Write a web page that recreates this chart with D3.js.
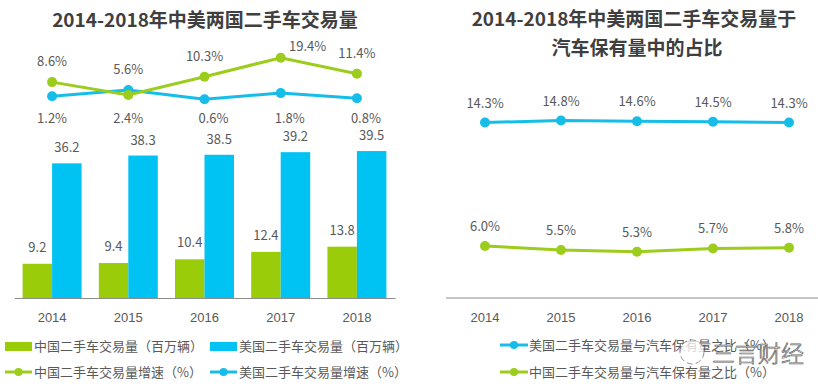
<!DOCTYPE html>
<html><head><meta charset="utf-8">
<script src="https://cdn.jsdelivr.net/npm/d3@7"></script>
<style>
html,body{margin:0;padding:0;background:#fff;}
svg{display:block;font-family:"Noto Sans CJK SC","Noto Sans",sans-serif;}
</style></head>
<body>
<svg id="c" width="818" height="389"></svg>
<script>
// ---------- data ----------
const years = ["2014","2015","2016","2017","2018"];
const cnVolume = [9.2, 9.4, 10.4, 12.4, 13.8];      // 百万辆
const usVolume = [36.2, 38.3, 38.5, 39.2, 39.5];    // 百万辆
const cnGrowth = [8.6, 5.6, 10.3, 19.4, 11.4];      // %
const usGrowth = [1.2, 2.4, 0.6, 1.8, 0.8];         // %
const usShare = [14.3, 14.8, 14.6, 14.5, 14.3];     // %
const cnShare = [6.0, 5.5, 5.3, 5.7, 5.8];          // %
const titleLeft = "2014-2018年中美两国二手车交易量";
const titleRight = ["2014-2018年中美两国二手车交易量于", "汽车保有量中的占比"];
const legendLeft = ["中国二手车交易量（百万辆）","美国二手车交易量（百万辆）","中国二手车交易量增速（%）","美国二手车交易量增速（%）"];
const legendRight = ["美国二手车交易量与汽车保有量之比（%）","中国二手车交易量与汽车保有量之比（%）"];

// ---------- style ----------
const GREEN = "#9acc0a", BLUE = "#00c3f3", LGREEN = "#9ccc1c", LBLUE = "#17bde9";
const TXT = "#595959", TITLE = "#3f3f3f", AXIS = "#8c8c8c";

const svg = d3.select("#c");

// ---------- left chart ----------
const L = svg.append("g");
L.append("text").attr("x",205).attr("y",27).attr("text-anchor","middle")
  .attr("font-size",19).attr("font-weight","bold").attr("fill",TITLE).text(titleLeft);

const x0 = d3.scaleBand().domain(years).range([14,395]).paddingInner(0.226).paddingOuter(0.113);
const x1 = d3.scaleBand().domain(["cn","us"]).range([0,x0.bandwidth()]);
const yBar = d3.scaleLinear().domain([0,40]).range([298,149.2]);
const yCnG = d3.scaleLog().domain([5.6,19.4]).range([95,57.7]);
const yUsG = d3.scaleLinear().domain([0.6,2.4]).range([99.3,90.0]);

const groups = L.selectAll("g.yr").data(years).join("g").attr("class","yr")
  .attr("transform", d=>`translate(${x0(d)},0)`);
groups.append("rect").attr("x",x1("cn")).attr("width",x1.bandwidth())
  .attr("y",(d,i)=>yBar(cnVolume[i])).attr("height",(d,i)=>yBar(0)-yBar(cnVolume[i])).attr("fill",GREEN);
groups.append("rect").attr("x",x1("us")).attr("width",x1.bandwidth())
  .attr("y",(d,i)=>yBar(usVolume[i])).attr("height",(d,i)=>yBar(0)-yBar(usVolume[i])).attr("fill",BLUE);
groups.append("text").attr("x",x1("cn")+x1.bandwidth()/2).attr("y",(d,i)=>yBar(cnVolume[i])-12)
  .attr("text-anchor","middle").attr("font-size",13).attr("fill",TXT).text((d,i)=>cnVolume[i].toFixed(1));
groups.append("text").attr("x",x1("us")+x1.bandwidth()/2).attr("y",(d,i)=>yBar(usVolume[i])-11)
  .attr("text-anchor","middle").attr("font-size",13).attr("fill",TXT).text((d,i)=>usVolume[i].toFixed(1));

const axL = L.append("g").attr("transform","translate(0,298)")
  .call(d3.axisBottom(x0).tickSize(0).tickSizeOuter(0).tickPadding(15));
axL.select(".domain").attr("stroke",AXIS);
axL.selectAll("text").attr("font-size",13).attr("fill",TXT).attr("font-family","inherit");

const cx = d => x0(d)+x0.bandwidth()/2;
const lineCn = d3.line().x((d,i)=>cx(years[i])).y(d=>yCnG(d));
const lineUs = d3.line().x((d,i)=>cx(years[i])).y(d=>yUsG(d));
L.append("path").datum(usGrowth).attr("d",lineUs).attr("fill","none").attr("stroke",LBLUE).attr("stroke-width",3);
L.append("path").datum(cnGrowth).attr("d",lineCn).attr("fill","none").attr("stroke",LGREEN).attr("stroke-width",3);
L.selectAll("circle.us").data(usGrowth).join("circle").attr("class","us")
  .attr("cx",(d,i)=>cx(years[i])).attr("cy",d=>yUsG(d)).attr("r",5).attr("fill",LBLUE);
L.selectAll("circle.cn").data(cnGrowth).join("circle").attr("class","cn")
  .attr("cx",(d,i)=>cx(years[i])).attr("cy",d=>yCnG(d)).attr("r",5).attr("fill",LGREEN);

// label layout nudges (placement only)
const cnMaxIdx = cnGrowth.indexOf(d3.max(cnGrowth));
L.selectAll("text.cnl").data(cnGrowth).join("text").attr("class","cnl")
  .attr("x",(d,i)=>cx(years[i]) + (i===cnMaxIdx?27:0))
  .attr("y",(d,i)=>Math.min(yCnG(d), yUsG(usGrowth[i])) - 16 + (i===cnMaxIdx?9:0))
  .attr("text-anchor","middle").attr("font-size",13).attr("fill",TXT).text(d=>d.toFixed(1)+"%");
const usRowY = d3.max(usGrowth, d=>yUsG(d)) + 24;
L.selectAll("text.usl").data(usGrowth).join("text").attr("class","usl")
  .attr("x",(d,i)=>cx(years[i]) + (i>=2?9:0)).attr("y",usRowY)
  .attr("text-anchor","middle").attr("font-size",13).attr("fill",TXT).text(d=>d.toFixed(1)+"%");

// left legend
const lg = L.append("g").attr("font-size",13).attr("fill",TXT);
lg.append("rect").attr("x",5).attr("y",342).attr("width",27).attr("height",9).attr("fill",GREEN);
lg.append("text").attr("x",34).attr("y",351).text(legendLeft[0]);
lg.append("rect").attr("x",210).attr("y",342).attr("width",27).attr("height",9).attr("fill",BLUE);
lg.append("text").attr("x",239).attr("y",351).text(legendLeft[1]);
[[5,LGREEN,legendLeft[2]],[210,LBLUE,legendLeft[3]]].forEach(([x,c,t])=>{
  lg.append("line").attr("x1",x).attr("x2",x+27).attr("y1",372).attr("y2",372).attr("stroke",c).attr("stroke-width",3);
  lg.append("circle").attr("cx",x+13.5).attr("cy",372).attr("r",4).attr("fill",c);
  lg.append("text").attr("x",x+29).attr("y",377).text(t);
});

// ---------- right chart ----------
const R = svg.append("g");
R.append("text").attr("x",634).attr("y",26).attr("text-anchor","middle")
  .attr("font-size",19).attr("font-weight","bold").attr("fill",TITLE).text(titleRight[0]);
R.append("text").attr("x",637).attr("y",55).attr("text-anchor","middle")
  .attr("font-size",19).attr("font-weight","bold").attr("fill",TITLE).text(titleRight[1]);

const xr = d3.scaleBand().domain(years).range([447,827]);
const cxr = d => xr(d)+xr.bandwidth()/2;
const yUsS = d3.scaleLinear().domain([14.3,14.8]).range([122.5,120.5]);
const yCnS = d3.scaleLinear().domain([5.3,6.0]).range([251.7,246]);

const axR = R.append("g").attr("transform","translate(0,298)")
  .call(d3.axisBottom(xr).tickSize(0).tickSizeOuter(0).tickPadding(15));
axR.select(".domain").attr("stroke",AXIS).attr("d","M446,0H818");
axR.selectAll("text").attr("font-size",13).attr("fill",TXT).attr("font-family","inherit");

[[usShare,yUsS,LBLUE],[cnShare,yCnS,LGREEN]].forEach(([arr,ys,c])=>{
  R.append("path").datum(arr).attr("d",d3.line().x((d,i)=>cxr(years[i])).y(d=>ys(d)))
    .attr("fill","none").attr("stroke",c).attr("stroke-width",3);
  R.append("g").selectAll("circle").data(arr).join("circle")
    .attr("cx",(d,i)=>cxr(years[i])).attr("cy",d=>ys(d)).attr("r",5).attr("fill",c);
  R.append("g").selectAll("text").data(arr).join("text")
    .attr("x",(d,i)=>cxr(years[i])).attr("y",d=>ys(d)-15).attr("text-anchor","middle")
    .attr("font-size",13).attr("fill",TXT).text(d=>d.toFixed(1)+"%");
});

const rg = R.append("g").attr("font-size",13).attr("fill",TXT);
[[345,LBLUE,legendRight[0]],[372,LGREEN,legendRight[1]]].forEach(([y,c,t])=>{
  rg.append("line").attr("x1",500).attr("x2",528).attr("y1",y).attr("y2",y).attr("stroke",c).attr("stroke-width",3);
  rg.append("circle").attr("cx",514).attr("cy",y).attr("r",4).attr("fill",c);
  rg.append("text").attr("x",529).attr("y",y+5).text(t);
});

// watermark
const wm = svg.append("g");
wm.append("circle").attr("cx",692).attr("cy",352).attr("r",12).attr("fill","rgba(255,255,255,0.75)").attr("stroke","#777").attr("stroke-width",0.8).attr("stroke-dasharray","6 3");
wm.append("text").attr("x",712).attr("y",362).attr("font-size",23).attr("font-weight",300)
  .attr("fill","rgba(255,255,255,0.85)").attr("stroke","#666").attr("stroke-width",0.7).text("三言财经");
</script>
</body></html>
